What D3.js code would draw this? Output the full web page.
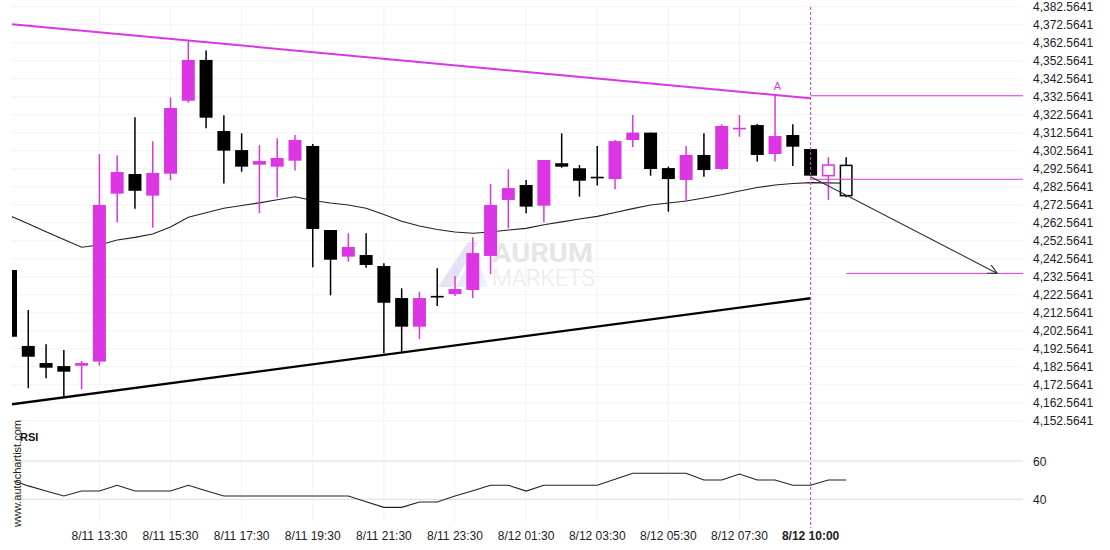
<!DOCTYPE html>
<html>
<head>
<meta charset="utf-8">
<script src="https://cdn.jsdelivr.net/npm/d3@7.9.0/dist/d3.min.js"></script>
<style>
  body { margin: 0; background: #fff; }
  svg { display: block; font-family: "Liberation Sans", Arial, sans-serif; }
</style>
</head>
<body>
<svg id="chart" width="1110" height="550"></svg>
<script>
// candle data, 30 min bars
const opens  = [4236.3, 4194.1, 4184.6, 4182.9, 4183.1, 4185.4, 4278.7, 4289.6, 4277.6, 4289.8,
                4330.3, 4353.0, 4313.5, 4302.9, 4294.8, 4293.7, 4297.0, 4305.2, 4258.5, 4243.7,
                4244.6, 4238.5, 4220.7, 4204.8, 4221.9, 4222.9, 4225.2, 4244.1, 4275.2, 4283.5,
                4272.0, 4295.6, 4292.8, 4288.1, 4286.8, 4308.5, 4312.6, 4292.9, 4286.3, 4300.2,
                4292.4, 4315.0, 4316.8, 4300.7, 4311.3, 4303.5, 4288.7, 4294.4];
const highs  = [4236.3, 4214.1, 4195.0, 4191.8, 4185.7, 4300.7, 4300.0, 4321.1, 4307.8, 4332.2,
                4363.5, 4358.3, 4322.2, 4312.2, 4305.6, 4309.5, 4311.3, 4306.3, 4258.5, 4256.7,
                4256.7, 4240.0, 4226.1, 4224.2, 4237.2, 4232.8, 4254.5, 4284.1, 4292.2, 4286.3,
                4297.4, 4312.2, 4294.6, 4305.2, 4308.5, 4322.4, 4312.6, 4293.7, 4305.2, 4312.2,
                4317.2, 4322.4, 4317.4, 4333.5, 4317.2, 4303.5, 4298.9, 4298.9];
const lows   = [4199.2, 4170.6, 4176.1, 4165.9, 4170.0, 4183.1, 4262.8, 4270.3, 4259.8, 4286.1,
                4329.2, 4315.0, 4284.4, 4290.9, 4267.8, 4276.5, 4291.5, 4237.8, 4222.2, 4240.9,
                4237.6, 4190.0, 4190.6, 4197.8, 4216.3, 4221.8, 4220.6, 4233.9, 4259.5, 4267.8,
                4262.8, 4293.1, 4277.0, 4283.3, 4281.1, 4304.5, 4288.7, 4268.7, 4274.2, 4288.1,
                4291.8, 4310.3, 4296.5, 4296.5, 4294.1, 4288.7, 4275.2, 4276.7];
const closes = [4199.2, 4188.1, 4182.0, 4179.8, 4184.6, 4272.4, 4290.7, 4280.3, 4290.2, 4326.3,
                4353.0, 4320.9, 4302.6, 4293.7, 4296.8, 4298.5, 4308.5, 4259.1, 4242.0, 4249.1,
                4239.1, 4218.1, 4204.8, 4220.7, 4221.1, 4225.7, 4245.7, 4272.4, 4281.8, 4271.5,
                4297.4, 4293.7, 4285.9, 4287.6, 4307.9, 4312.6, 4292.4, 4286.8, 4300.2, 4291.8,
                4316.3, 4315.3, 4300.2, 4310.7, 4304.8, 4288.7, 4294.6, 4277.6];
// moving average
const maValues = [4266.3, 4262.0, 4257.6, 4253.2, 4248.9, 4250.2, 4253.0, 4254.4, 4256.3, 4260.2,
                  4265.6, 4268.1, 4270.6, 4272.1, 4273.6, 4275.3, 4277.0, 4274.9, 4273.5, 4272.4,
                  4270.6, 4267.1, 4263.4, 4260.7, 4258.8, 4257.4, 4256.7, 4257.4, 4258.5, 4259.4,
                  4261.4, 4263.0, 4264.6, 4266.1, 4268.2, 4270.4, 4272.4, 4273.5, 4274.6, 4276.3,
                  4278.1, 4280.2, 4282.1, 4283.5, 4284.3, 4284.8, 4284.7, 4284.5];
// RSI
const rsiValues = [49.6, 47.0, 44.3, 41.7, 44.3, 44.3, 47.3, 44.3, 44.3, 44.3,
                   47.3, 44.5, 41.7, 41.7, 41.7, 41.7, 41.7, 41.7, 41.7, 41.7,
                   38.7, 35.8, 35.8, 38.6, 38.6, 41.7, 44.5, 47.3, 47.3, 44.3,
                   47.3, 47.3, 47.3, 47.3, 50.5, 53.6, 53.6, 53.6, 53.6, 50.1,
                   50.1, 53.2, 50.1, 50.1, 47.3, 47.3, 50.1, 50.1];
const hollowFrom = 46;

const timeLabels = ['8/11 13:30', '8/11 15:30', '8/11 17:30', '8/11 19:30', '8/11 21:30', '8/11 23:30',
                    '8/12 01:30', '8/12 03:30', '8/12 05:30', '8/12 07:30', '8/12 10:00'];
const timeIndex  = [5, 9, 13, 17, 21, 25, 29, 33, 37, 41, 45];

const priceTicks = [4382.5641, 4372.5641, 4362.5641, 4352.5641, 4342.5641, 4332.5641, 4322.5641, 4312.5641,
                    4302.5641, 4292.5641, 4282.5641, 4272.5641, 4262.5641, 4252.5641, 4242.5641, 4232.5641,
                    4222.5641, 4212.5641, 4202.5641, 4192.5641, 4182.5641, 4172.5641, 4162.5641, 4152.5641];
const rsiTicks = [60, 40];

// pattern lines [index, price]
const upperLine = [[0, 4372.9], [45, 4331.7]];
const lowerLine = [[0, 4161.6], [45, 4220.6]];
const levelPrices = [4333.1, 4286.7];
const targetLevel = [47, 4234.4];
const arrowPts = [[45, 4288.1], [55.5, 4234.4]];
const markA = [43, 4336.5];
const nowIndex = 45;

const MAG = '#dc36e4';
const left = 12, right = 1023;

const svg = d3.select('#chart');
const x = d3.scaleLinear().domain([0, 47]).range([10.5, 10.5 + 47 * 17.78]);
const y = d3.scaleLinear().domain([4152.5641, 4382.5641]).range([420.7, 6.7]);
const ry = d3.scaleLinear().domain([40, 60]).range([499.3, 461]);

svg.append('defs').append('clipPath').attr('id', 'clip')
  .append('rect').attr('x', left).attr('y', 0).attr('width', right - left).attr('height', 430);

// grid
svg.append('g').selectAll('line').data(priceTicks).join('line')
  .attr('x1', left).attr('x2', right)
  .attr('y1', d => y(d)).attr('y2', d => y(d))
  .attr('stroke', '#f3f3f3');
svg.append('g').selectAll('line').data(timeIndex.slice(0, -1)).join('line')
  .attr('x1', d => x(d)).attr('x2', d => x(d))
  .attr('y1', 7).attr('y2', 522)
  .attr('stroke', '#f3f3f3');
svg.append('g').selectAll('line').data(rsiTicks).join('line')
  .attr('x1', left).attr('x2', right)
  .attr('y1', d => ry(d)).attr('y2', d => ry(d))
  .attr('stroke', '#dcdcdc');

// watermark
const wm = svg.append('g');
const grad = svg.select('defs').append('linearGradient').attr('id', 'wmg')
  .attr('x1', '0').attr('y1', '0').attr('x2', '1').attr('y2', '1');
grad.append('stop').attr('offset', '0').attr('stop-color', '#f3c9ef');
grad.append('stop').attr('offset', '0.6').attr('stop-color', '#d9d6f5');
grad.append('stop').attr('offset', '1').attr('stop-color', '#cdf0f4');
wm.append('path').attr('d', 'M438,287 L468,242 L478,242 L452,287 Z').attr('fill', 'url(#wmg)').attr('opacity', 0.7);
wm.append('path').attr('d', 'M456,287 L474,252 L488,287 Z').attr('fill', 'url(#wmg)').attr('opacity', 0.5);
wm.append('text').attr('x', 492).attr('y', 262).attr('font-size', 25).attr('font-weight', 'bold')
  .attr('textLength', 101).attr('lengthAdjust', 'spacingAndGlyphs')
  .attr('fill', '#e6e6e6').attr('font-family', 'Roboto, sans-serif').text('AURUM');
wm.append('text').attr('x', 492).attr('y', 286).attr('font-size', 23).attr('font-weight', 300)
  .attr('textLength', 103).attr('lengthAdjust', 'spacingAndGlyphs')
  .attr('fill', '#ebebeb').attr('font-family', 'Roboto, sans-serif').text('MARKETS');

const plot = svg.append('g').attr('clip-path', 'url(#clip)');

// moving average
plot.append('path').datum(maValues)
  .attr('d', d3.line().x((d, i) => x(i)).y(d => y(d)))
  .attr('fill', 'none').attr('stroke', '#222').attr('stroke-width', 1.1);

// candles
const idx = d3.range(opens.length);
const colorOf = i => closes[i] >= opens[i] ? MAG : '#000';
plot.append('g').selectAll('line').data(idx).join('line')
  .attr('x1', i => x(i)).attr('x2', i => x(i))
  .attr('y1', i => y(highs[i])).attr('y2', i => y(lows[i]))
  .attr('stroke', colorOf).attr('stroke-width', 1.5);
plot.append('g').selectAll('rect').data(idx).join('rect')
  .attr('x', i => x(i) - 6.5 + (i >= hollowFrom ? 0.75 : 0))
  .attr('width', i => i >= hollowFrom ? 11.5 : 13)
  .attr('y', i => y(Math.max(opens[i], closes[i])))
  .attr('height', i => Math.max(1.6, Math.abs(y(opens[i]) - y(closes[i]))))
  .attr('fill', i => i >= hollowFrom ? '#fff' : colorOf(i))
  .attr('stroke', i => i >= hollowFrom ? colorOf(i) : 'none')
  .attr('stroke-width', 1.5);

// pattern lines
const line = d3.line().x(d => x(d[0])).y(d => y(d[1]));
plot.append('path').datum(upperLine).attr('d', line)
  .attr('stroke', MAG).attr('stroke-width', 2).attr('fill', 'none');
plot.append('path').datum(lowerLine).attr('d', line)
  .attr('stroke', '#000').attr('stroke-width', 2.3).attr('fill', 'none');

// levels
svg.append('g').selectAll('line').data(levelPrices).join('line')
  .attr('x1', x(nowIndex)).attr('x2', right)
  .attr('y1', d => y(d)).attr('y2', d => y(d))
  .attr('stroke', MAG).attr('stroke-width', 1);
svg.append('line')
  .attr('x1', x(targetLevel[0])).attr('x2', right)
  .attr('y1', y(targetLevel[1])).attr('y2', y(targetLevel[1]))
  .attr('stroke', MAG).attr('stroke-width', 1);

// arrow
svg.select('defs').append('marker').attr('id', 'arr')
  .attr('viewBox', '0 0 10 10').attr('refX', 10).attr('refY', 5)
  .attr('markerWidth', 9).attr('markerHeight', 9).attr('orient', 'auto')
  .append('path').attr('d', 'M0,0 L10,5 L0,10').attr('fill', 'none').attr('stroke', '#333').attr('stroke-width', 1.2);
svg.append('path').datum(arrowPts).attr('d', line)
  .attr('stroke', '#333').attr('stroke-width', 1.1).attr('fill', 'none')
  .attr('marker-end', 'url(#arr)');

// A mark
svg.append('text').attr('x', x(markA[0]) + 2.5).attr('y', y(markA[1]))
  .attr('text-anchor', 'middle').attr('font-size', 11).attr('fill', MAG).text('A');

// now line
svg.append('line').attr('x1', x(nowIndex)).attr('x2', x(nowIndex))
  .attr('y1', 7).attr('y2', 528)
  .attr('stroke', MAG).attr('stroke-width', 1).attr('stroke-dasharray', '3,2');

// RSI
svg.append('path').datum(rsiValues)
  .attr('d', d3.line().x((d, i) => Math.max(14, x(i))).y(d => ry(d)))
  .attr('fill', 'none').attr('stroke', '#222').attr('stroke-width', 1.1);
svg.append('text').attr('x', 20).attr('y', 441).attr('font-size', 11).attr('font-weight', 'bold')
  .attr('fill', '#111').text('RSI');

// axes text
const fmt = d3.format(',.4f');
svg.append('g').selectAll('text').data(priceTicks).join('text')
  .attr('x', 1033).attr('y', d => y(d) + 4.5)
  .attr('font-size', 12).attr('fill', '#222').text(d => fmt(d));
svg.append('g').selectAll('text').data(rsiTicks).join('text')
  .attr('x', 1033).attr('y', d => ry(d) + 4.5)
  .attr('font-size', 12).attr('fill', '#222').text(d => d);
svg.append('g').selectAll('text').data(timeLabels).join('text')
  .attr('x', (d, i) => x(timeIndex[i])).attr('y', 540)
  .attr('text-anchor', 'middle').attr('font-size', 12)
  .attr('font-weight', (d, i) => i === timeLabels.length - 1 ? 'bold' : 'normal')
  .attr('fill', '#222').text(d => d);

// site tag
svg.append('text').attr('transform', 'translate(21,527) rotate(-90)')
  .attr('font-size', 11).attr('fill', '#222').text('www.autochartist.com');
</script>
</body>
</html>
